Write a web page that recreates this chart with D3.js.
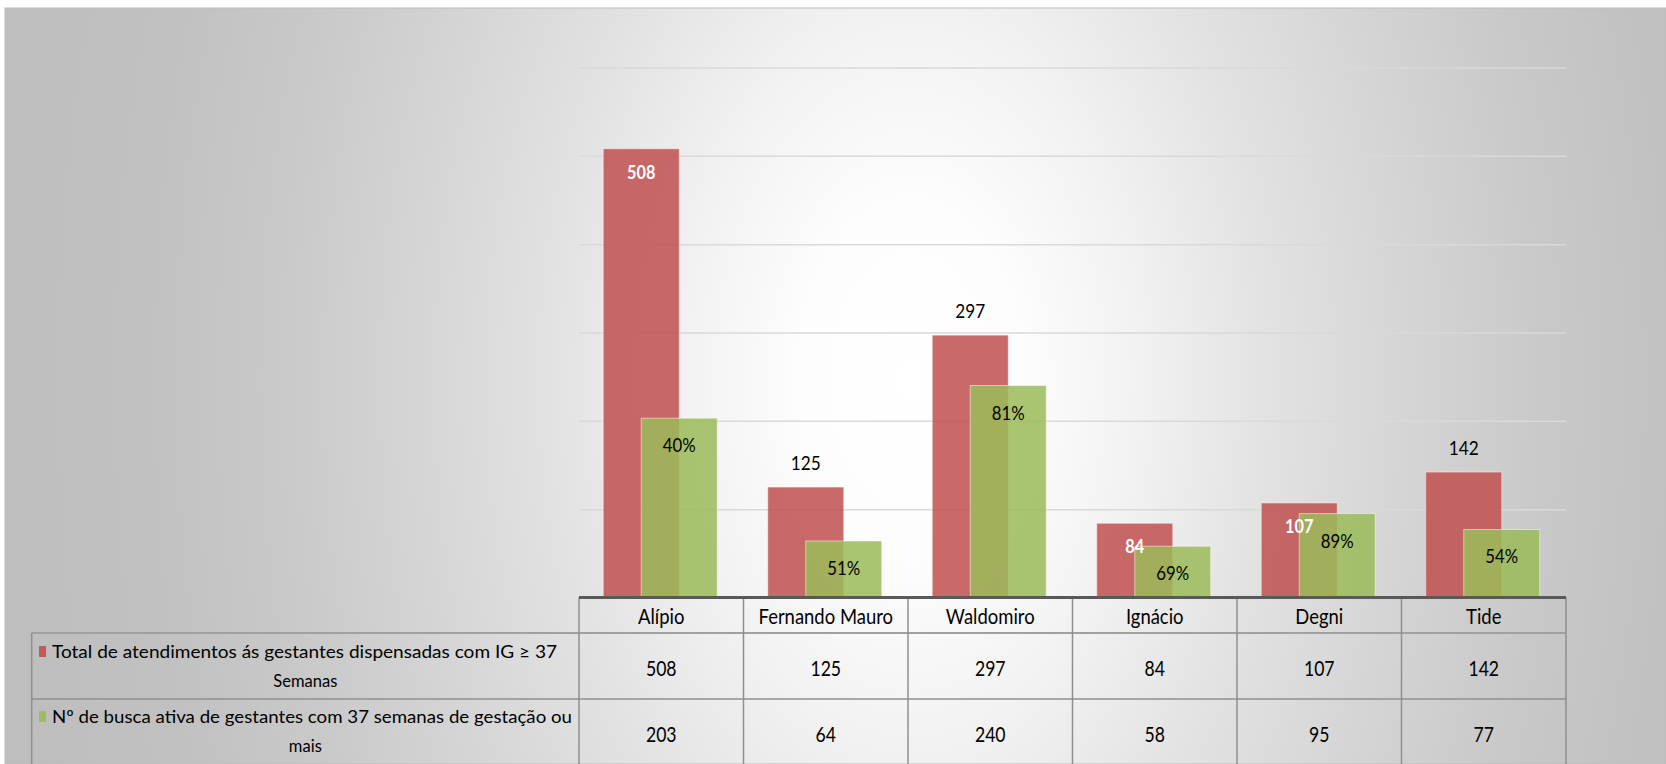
<!DOCTYPE html>
<html><head><meta charset="utf-8">
<script src="https://cdn.jsdelivr.net/npm/d3@7"></script>
<style>html,body{margin:0;padding:0;background:#fff;overflow:hidden}</style>
</head><body>
<svg id="c" width="1666" height="764"></svg>
<script>
// ---- data ----
const categories = ["Alípio", "Fernando Mauro", "Waldomiro", "Ignácio", "Degni", "Tide"];
const totalAtendimentos = [508, 125, 297, 84, 107, 142];
const buscaAtiva = [203, 64, 240, 58, 95, 77];
const buscaPercentLabels = ["40%", "51%", "81%", "69%", "89%", "54%"];
const totalLabelInside = [true, false, false, true, true, false];
const seriesLegendLines = [
  ["Total de atendimentos ás gestantes dispensadas com IG ≥ 37", "Semanas"],
  ["Nº de busca ativa de gestantes com 37 semanas de gestação ou", "mais"]
];
const yTicks = [0, 100, 200, 300, 400, 500, 600];

// ---- layout ----
const svg = d3.select("#c");
const W = 1666, H = 764;
const plotL = 579, plotR = 1566, baseY = 597.5, topY = 67.5;
const tableLeft = 31.7, headerBottom = 633, rowDiv = 699, tableBottom = 764;
const FONT = "Lato, 'Open Sans', sans-serif";
const SX = 0.86;
const RED = "#c0504d", GREEN = "#9bbb59";

const defs = svg.append("defs");
const rg = defs.append("radialGradient").attr("id", "bg")
  .attr("gradientUnits", "userSpaceOnUse")
  .attr("cx", 0).attr("cy", 0).attr("r", 900)
  .attr("gradientTransform", "translate(910,380) scale(1,1.6)");
[[0, "#ffffff"], [0.12, "#fdfdfd"], [0.25, "#f2f2f2"], [0.4, "#e2e2e2"],
 [0.55, "#d5d5d5"], [0.7, "#c9c9c9"], [0.85, "#c1c1c1"], [1, "#bebebe"]]
  .forEach(([o, c]) => rg.append("stop").attr("offset", o).attr("stop-color", c));

svg.append("rect").attr("x", 5).attr("y", 8).attr("width", W - 5).attr("height", H - 8)
  .attr("fill", "url(#bg)").attr("stroke", "#bdbdbd").attr("stroke-width", 1);

const x = d3.scaleBand().domain(categories).range([plotL, plotR]).padding(0);
const y = d3.scaleLinear().domain([0, 600]).range([baseY, topY]);
const bw = x.bandwidth();
const barW = bw * 0.462;
const off = (bw - 1.5 * barW) / 2 - 1;

// gridlines
const grid = svg.append("g").attr("transform", `translate(${plotL},0)`)
  .call(d3.axisLeft(y).tickValues(yTicks.slice(1)).tickSize(-(plotR - plotL)).tickFormat(""));
grid.select(".domain").remove();
grid.selectAll("line").attr("stroke", "#d9d9d9").attr("stroke-width", 1.5);

function txt(parent, tx, ty, s, o = {}) {
  return parent.append("text")
    .attr("transform", `translate(${tx},${ty}) scale(${o.sx || SX},1)`)
    .attr("text-anchor", o.anchor || "middle")
    .attr("font-family", FONT)
    .attr("font-size", o.size || 20)
    .attr("font-weight", o.weight || "normal")
    .attr("fill", o.fill || "#000")
    .text(s);
}

// bars
const data = categories.map((c, i) => ({ c, i, t: totalAtendimentos[i], b: buscaAtiva[i] }));
svg.append("g").selectAll("rect").data(data).join("rect")
  .attr("x", d => x(d.c) + off).attr("width", barW)
  .attr("y", d => y(d.t)).attr("height", d => y(0) - y(d.t))
  .attr("fill", RED).attr("fill-opacity", 0.85)
  .attr("stroke", "#ffffff").attr("stroke-opacity", 0.45).attr("stroke-width", 1);
svg.append("g").selectAll("rect").data(data).join("rect")
  .attr("x", d => x(d.c) + off + barW / 2).attr("width", barW)
  .attr("y", d => y(d.b)).attr("height", d => y(0) - y(d.b))
  .attr("fill", GREEN).attr("fill-opacity", 0.85)
  .attr("stroke", "#ffffff").attr("stroke-opacity", 0.5).attr("stroke-width", 1);

// labels
const lab = svg.append("g");
data.forEach(d => {
  const cxR = x(d.c) + off + barW / 2;
  if (totalLabelInside[d.i]) {
    txt(lab, cxR, y(d.t) + 30, d.t, { fill: "#ffffff", weight: "bold", size: 19 });
  } else {
    txt(lab, cxR, y(d.t) - 17, d.t, { size: 20 });
  }
  const cxG = x(d.c) + off + barW;
  txt(lab, cxG, y(d.b) + 34, buscaPercentLabels[d.i], { size: 19.5 });
});

// ---- data table ----
const tbl = svg.append("g");
const LC = "#8f8f8f";
function hline(x1, x2, yy, c = LC, w = 1.5) {
  tbl.append("line").attr("x1", x1).attr("x2", x2).attr("y1", yy).attr("y2", yy)
    .attr("stroke", c).attr("stroke-width", w);
}
function vline(xx, y1, y2, c = LC, w = 1.5) {
  tbl.append("line").attr("x1", xx).attr("x2", xx).attr("y1", y1).attr("y2", y2)
    .attr("stroke", c).attr("stroke-width", w);
}
hline(tableLeft, plotR, headerBottom, "#a0a0a0", 2);
hline(tableLeft, plotR, rowDiv);
vline(tableLeft, headerBottom, tableBottom);
categories.forEach(c => vline(x(c), baseY, tableBottom));
vline(plotR, baseY, tableBottom);
hline(plotL, plotR, baseY, "#595959", 3);

categories.forEach((c, i) => {
  const cx = x(c) + bw / 2;
  txt(tbl, cx, 624, c, { size: 20.5, sx: 0.9 });
  txt(tbl, cx, 676, totalAtendimentos[i], { size: 20.5 });
  txt(tbl, cx, 742, buscaAtiva[i], { size: 20.5 });
});

// legend keys + series names
const legColors = [RED, GREEN];
const legY = [[658, 687], [723, 752]];
const legLen = [505, 520];
seriesLegendLines.forEach((lines, k) => {
  tbl.append("rect").attr("x", 39).attr("y", legY[k][0] - 12).attr("width", 7).attr("height", 11)
    .attr("fill", legColors[k]).attr("fill-opacity", 0.9);
  tbl.append("text").attr("x", 52).attr("y", legY[k][0])
    .attr("font-family", FONT).attr("font-size", 17.5).attr("fill", "#000")
    .attr("textLength", legLen[k]).attr("lengthAdjust", "spacingAndGlyphs")
    .text(lines[0]);
  txt(tbl, (tableLeft + plotL) / 2, legY[k][1], lines[1], { size: 18, sx: 0.92 });
});
</script>
</body></html>
